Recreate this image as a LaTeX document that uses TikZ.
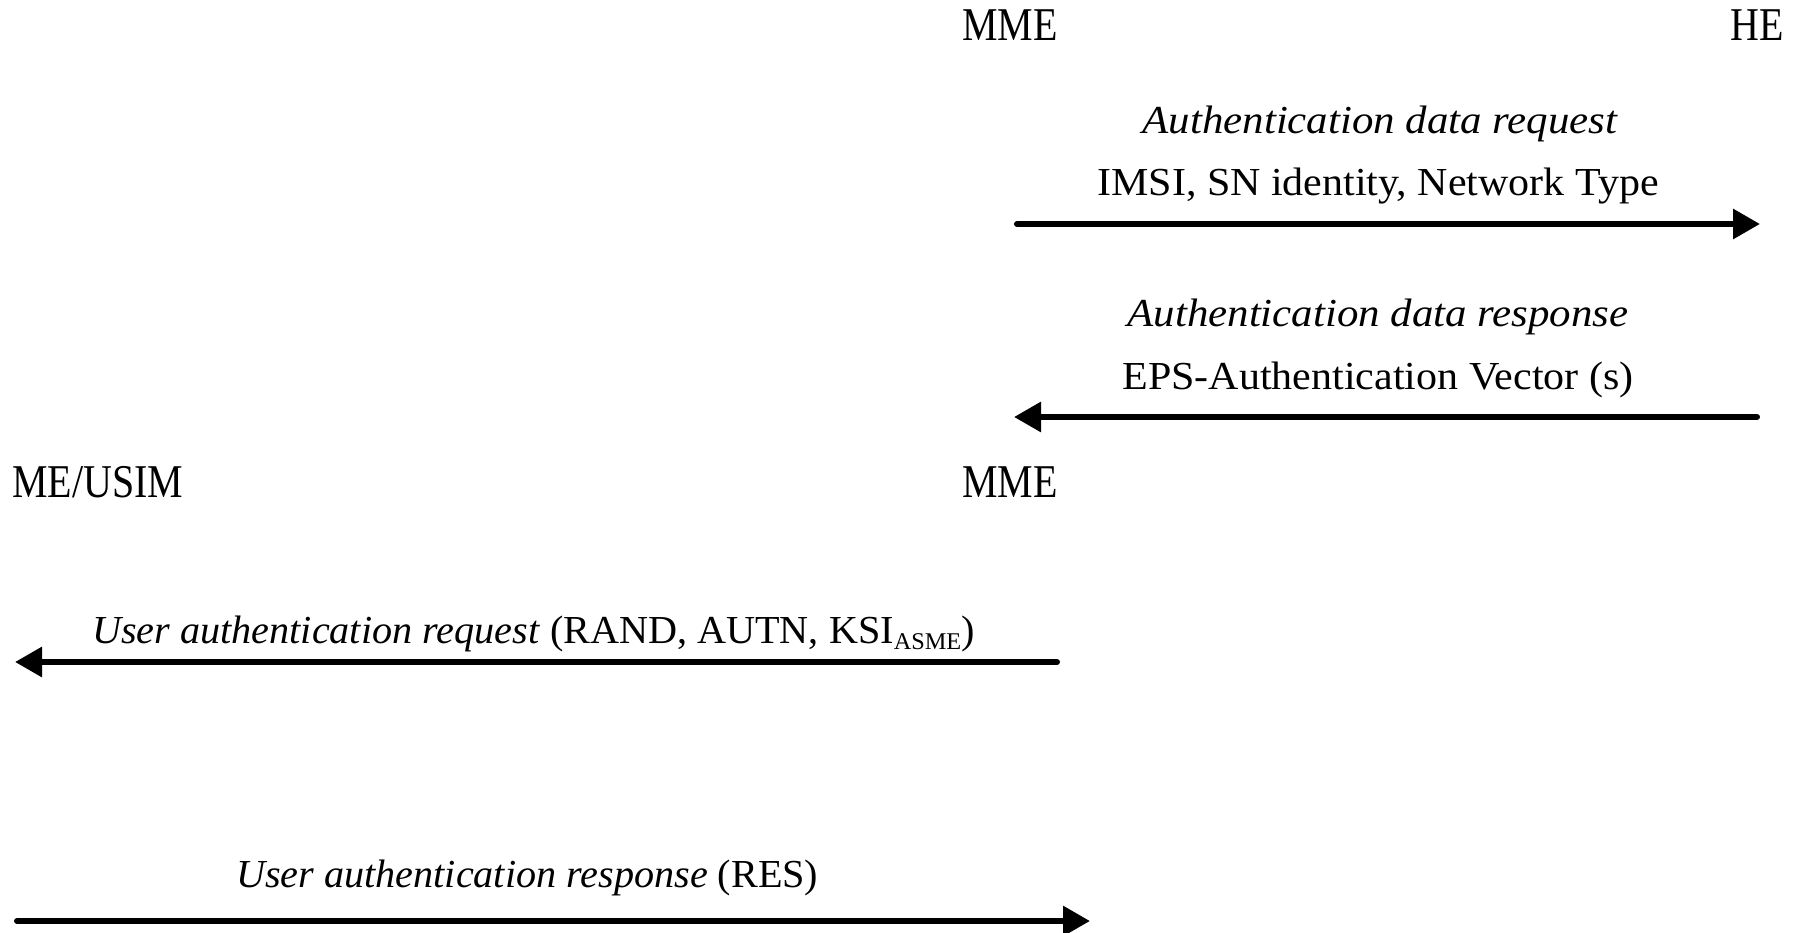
\documentclass[tikz,border=0pt]{standalone}
\usepackage{fontspec}
\setmainfont{Liberation Serif}
\newfontfamily\msgfont[FakeStretch=1.058]{Liberation Serif}
\newfontfamily\msgitfont[FakeStretch=1.08]{Liberation Serif}
\newfontfamily\msglowfont[FakeStretch=1.012]{Liberation Serif}
\newfontfamily\partfont[FakeStretch=0.85]{Liberation Serif}
\usetikzlibrary{arrows.meta}

\tikzset{
  party/.style={inner sep=0pt, anchor=base west,
    font=\partfont\fontsize{47pt}{56pt}\selectfont},
  msg/.style={inner sep=0pt, anchor=base,
    font=\msgfont\fontsize{39.7pt}{48pt}\selectfont},
  msgit/.style={msg, font=\msgitfont\itshape\fontsize{39.7pt}{48pt}\selectfont},
  msgw/.style={inner sep=0pt, anchor=base west,
    font=\msglowfont\fontsize{39.7pt}{48pt}\selectfont},
  flow/.style={line width=6pt, line cap=round,
    -{Triangle[length=27pt,width=29pt]}}
}
\newcommand{\subtxt}[1]{\raisebox{-6pt}{\fontsize{24pt}{28pt}\selectfont #1}}

\begin{document}
\begin{tikzpicture}[x=1pt,y=-1pt]
  \useasboundingbox (0,0) rectangle (1800,933);

  % participants
  \node[party] (mmeA) at (962,41) {MME};
  \node[party] (he)   at (1730,41) {HE};
  \node[party] (ue)   at (12,497) {ME/USIM};
  \node[party] (mmeB) at (962,497) {MME};

  % MME -> HE : authentication data request
  \coordinate (reqS) at (1017,224);
  \coordinate (reqE) at (1760,224);
  \node[msgit] (reqT1) at (1380,134) {Authentication data request};
  \node[msg] (reqT2) at (1378,196) {IMSI, SN identity, Network Type};
  \draw[flow] (reqS) -- (reqE);

  % HE -> MME : authentication data response
  \coordinate (resS) at (1757,417);
  \coordinate (resE) at (1014,417);
  \node[msgit] (resT1) at (1378,327) {Authentication data response};
  \node[msg] (resT2) at (1378,389) {EPS-Authentication Vector (s)};
  \draw[flow] (resS) -- (resE);

  % MME -> ME/USIM : user authentication request
  \coordinate (uaqS) at (1057,662);
  \coordinate (uaqE) at (15,662);
  \node[msgw] (uaqT) at (92,643)
    {\textit{User authentication request} (RAND, AUTN, KSI\subtxt{ASME})};
  \draw[flow] (uaqS) -- (uaqE);

  % ME/USIM -> MME : user authentication response
  \coordinate (uarS) at (17,921);
  \coordinate (uarE) at (1090,921);
  \node[msgw] (uarT) at (236,887)
    {\textit{User authentication response} (RES)};
  \draw[flow] (uarS) -- (uarE);
\end{tikzpicture}
\end{document}
